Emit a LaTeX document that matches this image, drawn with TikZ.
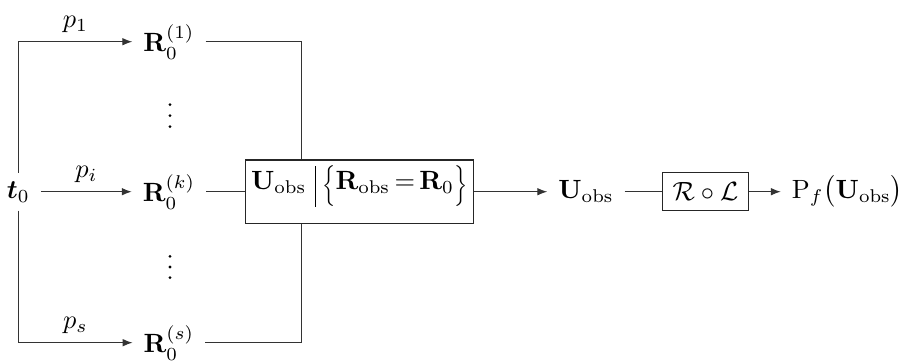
\documentclass[tikz,border=0pt]{standalone}
\usepackage{amsmath,bm,graphicx}
\usetikzlibrary{arrows.meta}
\newcommand{\brL}{\mathopen{\raisebox{-0.8pt}{\scalebox{0.75}[0.86]{$\Bigl\{$}}}}
\newcommand{\brR}{\mathclose{\raisebox{-0.8pt}{\scalebox{0.75}[0.86]{$\Bigr\}$}}}}
\begin{document}
\begin{tikzpicture}[x=0.3788pt,y=-0.3788pt,
  conn/.style={line width=0.45pt, draw=black!80},
  arr/.style={conn, -{Latex[length=3.8pt,width=2.9pt]}},
  txt/.style={inner xsep=4pt, inner ysep=3pt},
  blockbox/.style={draw=black!85, line width=0.45pt, inner sep=0pt, minimum width=86.4pt, minimum height=24pt, text height=8pt, text depth=9.3pt},
  opbox/.style={draw=black!85, line width=0.45pt, inner sep=0pt, minimum width=32.4pt, minimum height=14.4pt},
  dotmark/.style={fill=black, draw=none},
  lab/.style={above, inner sep=3.3pt}]
\useasboundingbox (0,0) rectangle (904,361);
\node[txt] (t0) at (18.3,191.7) {$\bm{t}_0$};
\node[txt] (R1) at (169,41.7) {$\mathbf{R}_0^{(1)}$};
\node[txt] (Rk) at (169,191.7) {$\mathbf{R}_0^{(k)}$};
\node[txt] (Rs) at (169,342.7) {$\mathbf{R}_0^{(s)}$};
\foreach \yy in {104.6,115.6,126.6,256.4,267,277.6}
  \fill[dotmark] (170,\yy) circle[radius=0.6pt];
\node[blockbox] (box1) at (359.2,191.7) {$\mathbf{U}_{\mathrm{obs}}\mkern6mu\vrule width 0.5pt height 9.1pt depth 6.4pt\mkern4mu\brL\mathbf{R}_{\mathrm{obs}}\mkern3mu{=}\mkern3mu\mathbf{R}_0\brR$};
\node[txt] (U) at (586,191.7) {$\mathbf{U}_{\mathrm{obs}}$};
\node[opbox] (box2) at (705.5,191.7) {$\mathcal{R}\circ\mathcal{L}$};
\node[txt] (Pf) at (847.5,191.7) {$\mathrm{P}_f\bigl(\mathbf{U}_{\mathrm{obs}}\bigr)$};
\coordinate (jt) at (301.7,0);
\draw[arr] (t0.north) |- (R1.west) node[lab, pos=0.75] {$p_1$};
\draw[arr] (t0.east) -- (Rk.west) node[lab, midway] {$p_i$};
\draw[arr] (t0.south) |- (Rs.west) node[lab, pos=0.75] {$p_s$};
\draw[conn] (R1.east) -| (jt |- box1.north);
\draw[conn] (Rk.east) -- (box1.west);
\draw[conn] (Rs.east) -| (jt |- box1.south);
\draw[arr] (box1.east) -- (U.west);
\draw[conn] (U.east) -- (box2.west);
\draw[arr] (box2.east) -- (Pf.west);
\end{tikzpicture}
\end{document}
